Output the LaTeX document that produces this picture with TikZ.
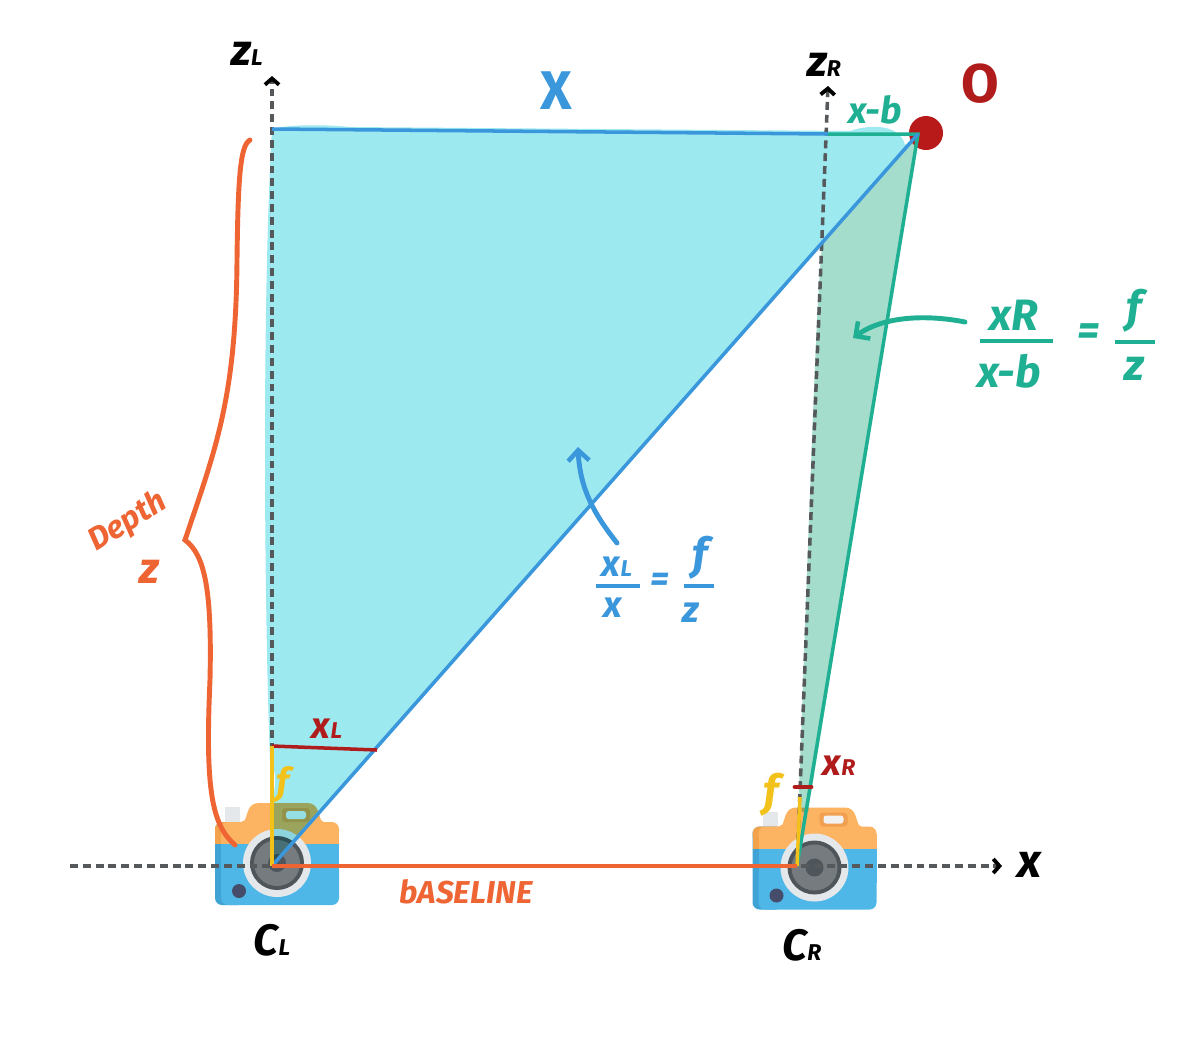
\documentclass[tikz,border=0pt]{standalone}
\usepackage{fontspec}
\setmainfont{Fira Sans}
\usetikzlibrary{arrows.meta,shapes.geometric}

\definecolor{cyanfill}{HTML}{9DE9F0}
\definecolor{tealfill}{HTML}{A5DDCC}
\definecolor{bluepen}{HTML}{3A97DB}
\definecolor{tealpen}{HTML}{1FB094}
\definecolor{orangepen}{HTML}{EE6433}
\definecolor{redpen}{HTML}{B01C1C}
\definecolor{yellowpen}{HTML}{F2C21B}
\definecolor{axisgray}{HTML}{55595C}
\definecolor{camorange}{HTML}{FDB462}
\definecolor{camorangedark}{HTML}{F2A24B}
\definecolor{camdark}{HTML}{F0A050}
\definecolor{camblue}{HTML}{4FB7E8}
\definecolor{cambluedark}{HTML}{3FA3D6}
\definecolor{camlens}{HTML}{4E565B}
\definecolor{camring}{HTML}{E4E8EB}

\newcommand{\subtxt}[1]{{\fontsize{13}{13}\selectfont #1}}

\tikzset{
camera/.pic={
 % flash and hump
 \fill[fill=camring] (10,4) rectangle (25,20);
 \fill[fill=camorange] (24,20) -- (30,17) .. controls (33,10) and (33,0) .. (44,0) -- (92,0)
   .. controls (103,0) and (103,10) .. (106,17) -- (110,20) -- cycle;
 % body
 \fill[fill=cambluedark, rounded corners=4pt] (0,19) rectangle (30,102);
 \fill[fill=camorangedark] (0,24) rectangle (30,41);
 \fill[fill=camorangedark, rounded corners=4pt] (0,19) rectangle (30,35);
 \fill[fill=camblue, rounded corners=4pt] (6,60) rectangle (124,102);
 \fill[fill=camorange, rounded corners=4pt] (6,19) rectangle (124,35);
 \fill[fill=camorange] (6,26) rectangle (124,41);
 \fill[fill=camblue] (6,41) rectangle (124,75);
 % viewfinder
 \fill[fill=camdark, rounded corners=2pt] (67,5) rectangle (95,19);
 \fill[fill=black!5, rounded corners=1.5pt] (71,8) rectangle (91,16);
 % lens
 \fill[fill=camring] (62,60) circle (34);
 \fill[fill=camlens] (62,60) circle (27);
 \fill[fill=camlens!78!white] (62,60) circle (23);
 \fill[fill=camlens] (62,60) circle (9);
 % button
 \fill[fill=camlens!90!blue] (24,88) circle (7);
},
}

\begin{document}
\begin{tikzpicture}[x=0.02cm,y=-0.02cm]
\tikzstyle{axis} = [draw=axisgray, line width=2pt, dash pattern=on 4.5pt off 2.8pt, -{Straight Barb[black,length=3.5pt,width=8pt,line width=2.2pt]}]
\tikzstyle{pen} = [line width=2pt]
\tikzstyle{bigpen} = [line width=2.8pt, line cap=round]
\tikzstyle{hand} = [font=\bfseries\itshape\fontsize{25}{25}\selectfont, inner sep=0pt]
\tikzstyle{handbig} = [font=\bfseries\fontsize{31}{31}\selectfont, inner sep=0pt]
\tikzstyle{handmid} = [font=\bfseries\itshape\fontsize{21}{21}\selectfont, inner sep=0pt]
\tikzstyle{handsmall} = [font=\bfseries\itshape\fontsize{18}{18}\selectfont, inner sep=0pt]

\useasboundingbox (0,0) rectangle (1200,1049);
\fill[white] (0,0) rectangle (1200,1049);

% cameras
\pic at (215,803) {camera};
\pic at (752.5,807.5) {camera};

% points
\coordinate (cam_l) at (272,866);
\coordinate (cam_r) at (797,866);
\coordinate (point_o) at (918,134);
\coordinate (top_l) at (272,129);
\coordinate (top_r) at (828,134);
\coordinate (focal_l) at (272,746);
\coordinate (ray_l) at (377,750);
\coordinate (focal_r) at (800,797);
\coordinate (mark_a) at (795,787);
\coordinate (mark_b) at (811,787);
\coordinate (axis_l_end) at (272,76);
\coordinate (axis_r_end) at (828,86);
\coordinate (axis_x_a) at (70,866);
\coordinate (axis_x_b) at (1002,866);

% fills
\begin{scope}[blend mode=multiply]
\fill[tealfill] (point_o) -- (822,245) .. controls (816,300) and (810,500) .. (799,790)
  -- (802,812) -- (808,812) -- cycle;
\fill[cyanfill] (272,129) .. controls (285,125) and (320,124) .. (350,127)
  -- (600,129) -- (850,131) .. controls (870,124) and (900,124) .. (905,145) -- (912,140)
  -- (cam_l) -- (273,800) .. controls (275,785) and (278,775) .. (270,760)
  .. controls (264,600) and (262,300) .. (272,129) -- cycle;
\end{scope}

% axes
\draw[axis] (axis_x_a) -- (axis_x_b);
\draw[axis] (cam_l) -- (axis_l_end);
\draw[axis] (cam_r) -- (axis_r_end);

% object
\node[circle, fill=redpen!90!red, minimum size=0.68cm, inner sep=0pt] (dot_o) at (926,133) {};

% triangles
\draw[pen, bluepen] (top_l) -- (top_r);
\draw[pen, tealpen] (top_r) -- (point_o) -- (cam_r);
\draw[pen, bluepen] (point_o) -- (cam_l);
\draw[pen, redpen] (focal_l) -- (ray_l);
\draw[bigpen, redpen] (mark_a) -- (mark_b);
\draw[pen, yellowpen] (focal_l) -- (cam_l);
\draw[pen, yellowpen] (focal_r) -- (cam_r);
\draw[pen, orangepen] (cam_l) -- (cam_r);

% depth brace
\coordinate (brace_a) at (250,140);
\coordinate (brace_b) at (235,845);
\draw[bigpen, orangepen] (brace_a) .. controls (240,145) and (238,180) .. (237,260)
  .. controls (236,400) and (215,450) .. (185,540) .. controls (205,555) and (212,590) .. (210,680)
  .. controls (205,790) and (212,825) .. (brace_b);

% labels
\node[hand] (label_zl) at (247,54) {z\subtxt{L}};
\node[hand] (label_zr) at (824,65) {z\subtxt{R}};
\node[handbig, bluepen] (label_big_x) at (556,91) {X};
\node[handbig, redpen] (label_o) at (980,84) {O};
\node[handmid, tealpen] (label_xb) at (875,110) {x-b};
\node[handsmall, orangepen, rotate=32] (label_depth) at (128,522) {Depth};
\node[hand, orangepen] (label_z) at (149,572) {z};
\node[handmid, redpen] (label_xl) at (327,729) {x\subtxt{L}};
\node[handmid, yellowpen] (label_fl) at (283,785) {f};
\node[handmid, redpen] (label_xr) at (839,766) {x\subtxt{R}};
\node[hand, yellowpen] (label_fr) at (771,795) {f};
\node[hand, font=\bfseries\itshape\fontsize{27}{27}\selectfont] (label_x) at (1029,865) {x};
\node[hand] (label_cl) at (272,940) {C\subtxt{L}};
\node[hand] (label_cr) at (802,945) {C\subtxt{R}};
\node[handsmall, orangepen] (label_base) at (466,892) {bASELINE};

% right equation
\node[hand, tealpen] (eq_r_xr) at (1014,315) {xR};
\node[hand, tealpen] (eq_r_xb) at (1009,371) {x-b};
\node[hand, tealpen] (eq_r_eq) at (1089,335) {=};
\node[hand, tealpen] (eq_r_f) at (1134,311) {f};
\node[hand, tealpen] (eq_r_z) at (1134,369) {z};
\coordinate (rule_a) at (980,341);
\coordinate (rule_b) at (1053,341);
\coordinate (rule_c) at (1115,342);
\coordinate (rule_d) at (1155,342);
\draw[pen, tealpen] (rule_a) -- (rule_b);
\draw[pen, tealpen] (rule_c) -- (rule_d);
\coordinate (arrow_r_a) at (965,322);
\coordinate (arrow_r_b) at (853,338);
\draw[bigpen, tealpen, -{Straight Barb[length=6pt,width=12pt,line width=2.6pt]}] (arrow_r_a) .. controls (930,315) and (885,315) .. (arrow_r_b);

% left equation
\node[handmid, bluepen] (eq_l_xl) at (617,567) {x\subtxt{L}};
\node[handmid, bluepen] (eq_l_x) at (613,608) {x};
\node[handmid, bluepen] (eq_l_eq) at (660,582) {=};
\node[hand, bluepen] (eq_l_f) at (700,558) {f};
\node[handmid, bluepen] (eq_l_z) at (691,613) {z};
\coordinate (rule_e) at (596,586);
\coordinate (rule_f) at (640,586);
\coordinate (rule_g) at (684,586);
\coordinate (rule_h) at (714,586);
\draw[pen, bluepen] (rule_e) -- (rule_f);
\draw[pen, bluepen] (rule_g) -- (rule_h);
\coordinate (arrow_l_a) at (617,543);
\coordinate (arrow_l_b) at (578,447);
\draw[bigpen, bluepen, -{Straight Barb[length=6pt,width=12pt,line width=2.6pt]}] (arrow_l_a) .. controls (595,515) and (580,490) .. (arrow_l_b);

\end{tikzpicture}
\end{document}
